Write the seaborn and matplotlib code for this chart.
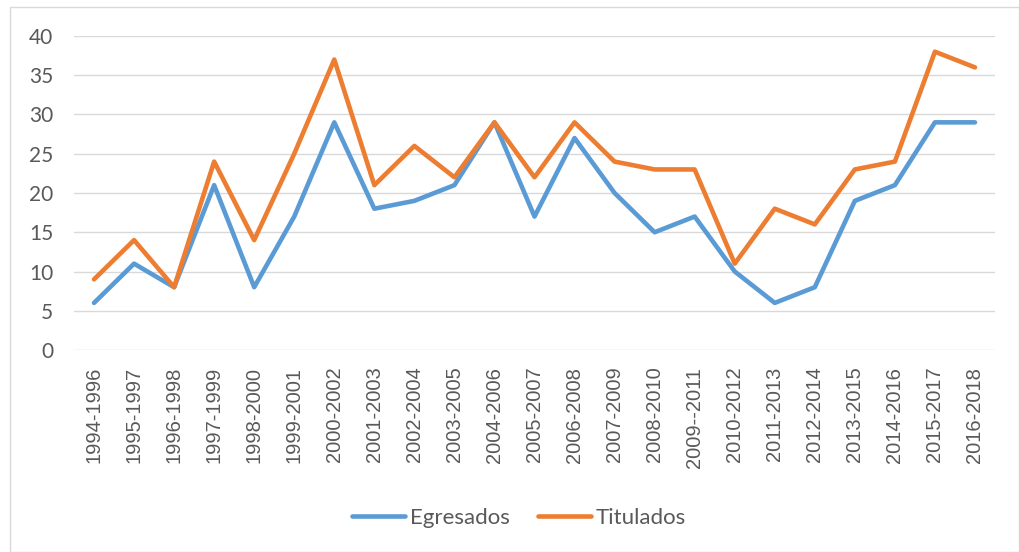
import pandas as pd
import matplotlib
matplotlib.use("Agg")
import matplotlib.pyplot as plt
from matplotlib.patches import Rectangle
import seaborn as sns

# Data
periodos = ['1994-1996', '1995-1997', '1996-1998', '1997-1999', '1998-2000',
            '1999-2001', '2000-2002', '2001-2003', '2002-2004', '2003-2005',
            '2004-2006', '2005-2007', '2006-2008', '2007-2009', '2008-2010',
            '2009--2011', '2010-2012', '2011-2013', '2012-2014', '2013-2015',
            '2014-2016', '2015-2017', '2016-2018']
egresados = [6, 11, 8, 21, 8, 17, 29, 18, 19, 21, 29, 17, 27, 20, 15, 17,
             10, 6, 8, 19, 21, 29, 29]
titulados = [9, 14, 8, 24, 14, 25, 37, 21, 26, 22, 29, 22, 29, 24, 23, 23,
             11, 18, 16, 23, 24, 38, 36]
y_ticks = [0, 5, 10, 15, 20, 25, 30, 35, 40]

SERIES = ['Egresados', 'Titulados']
COLORS = {'Egresados': '#5B9BD5', 'Titulados': '#ED7D31'}

df = pd.DataFrame({
    'periodo': periodos * 2,
    'valor': egresados + titulados,
    'serie': ['Egresados'] * len(periodos) + ['Titulados'] * len(periodos),
})

sns.set_style('white')
plt.rcParams['font.family'] = ['Lato', 'DejaVu Sans']

fig = plt.figure(figsize=(10.2, 5.52), dpi=100)
W, H = 1020, 552
ax = fig.add_axes([74 / W, 1 - 350 / H, (995 - 74) / W, (350 - 36) / H])

# chart frame
fig.patches.append(Rectangle((10 / W, 0.5 / H), (1019 - 10) / W, (545 - 0.5) / H,
                             transform=fig.transFigure, fill=False,
                             edgecolor='#D9D9D9', linewidth=1.0))

sns.lineplot(data=df, x='periodo', y='valor', hue='serie', hue_order=SERIES,
             palette=COLORS, linewidth=3.3, sort=False, ax=ax, legend=False,
             solid_joinstyle='round', solid_capstyle='round')

ax.set_ylim(0, 40)
ax.set_xlim(-0.5, len(periodos) - 0.5)
ax.set_yticks(y_ticks)
ax.set_yticklabels([str(v) for v in y_ticks], fontsize=15, color='#595959')
ax.set_xticks(range(len(periodos)))
ax.set_xticklabels(periodos, rotation=90, fontsize=14.5, color='#595959',
                   family='Liberation Sans')
ax.tick_params(axis='y', length=0, pad=15)
ax.tick_params(axis='x', length=0, pad=12)
ax.set_xlabel('')
ax.set_ylabel('')
for s in ax.spines.values():
    s.set_visible(False)
ax.grid(axis='y', color='#D9D9D9', linewidth=1.0)
ax.set_axisbelow(True)

handles = [plt.Line2D([], [], color=COLORS[s], linewidth=3.3,
                      solid_capstyle='round') for s in SERIES]
fig.legend(handles, SERIES, loc='center', bbox_to_anchor=(519 / W, 1 - 518 / H),
           ncol=2, frameon=False, fontsize=16, handlelength=2.4,
           handletextpad=0.22, columnspacing=1.25, labelcolor='#595959')

fig.savefig('out.png', dpi=100, facecolor='white')
